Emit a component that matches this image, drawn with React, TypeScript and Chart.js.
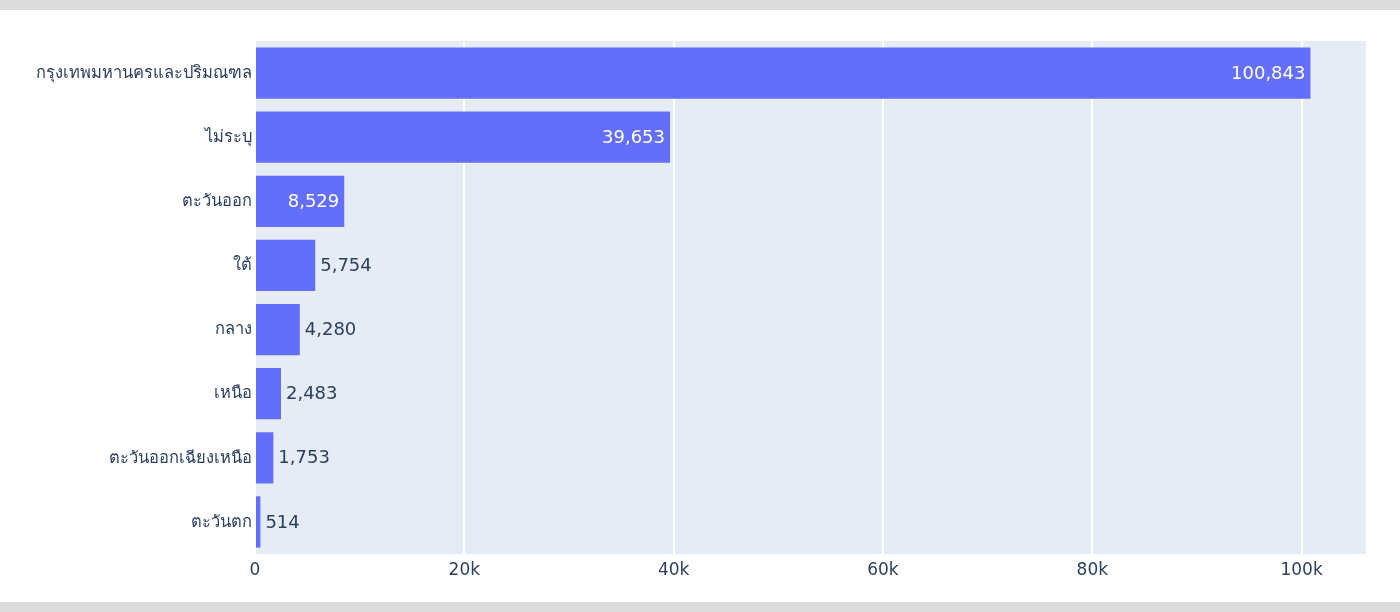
import React, { useEffect, useRef } from "react";
import { Chart, registerables } from "chart.js";

Chart.register(...registerables);

// Regions (top to bottom) and their counts
const regions = [
  "กรุงเทพมหานครและปริมณฑล",
  "ไม่ระบุ",
  "ตะวันออก",
  "ใต้",
  "กลาง",
  "เหนือ",
  "ตะวันออกเฉียงเหนือ",
  "ตะวันตก",
];
const counts = [100843, 39653, 8529, 5754, 4280, 2483, 1753, 514];
const xTickValues = [0, 20000, 40000, 60000, 80000, 100000];
const xMax = 106150;

const BAR = "#636EFA";
const PLOT_BG = "#E5ECF6";
const TEXT = "#2a3f5f";
const FONT = '"DejaVu Sans", verdana, arial, sans-serif';
const LABEL_FONT = '"Open Sans", verdana, arial, sans-serif';

const fmt = (v: number) => v.toLocaleString("en-US");

const plotBackground = {
  id: "plotBackground",
  beforeDraw(chart: any) {
    const { ctx, chartArea } = chart;
    ctx.save();
    ctx.fillStyle = PLOT_BG;
    ctx.fillRect(chartArea.left, chartArea.top, chartArea.right - chartArea.left, chartArea.bottom - chartArea.top);
    ctx.restore();
  },
};

// Value labels: inside the bar end when they fit, otherwise just past it
const barLabels = {
  id: "barLabels",
  afterDatasetsDraw(chart: any) {
    const { ctx } = chart;
    const meta = chart.getDatasetMeta(0);
    const data = chart.data.datasets[0].data as number[];
    ctx.save();
    ctx.font = `18px ${FONT}`;
    ctx.textBaseline = "middle";
    meta.data.forEach((bar: any, i: number) => {
      const text = fmt(data[i]);
      const w = ctx.measureText(text).width;
      const barLen = bar.x - bar.base;
      if (w + 16 <= barLen) {
        ctx.fillStyle = "#ffffff";
        ctx.textAlign = "right";
        ctx.fillText(text, bar.x - 5, bar.y + 1);
      } else {
        ctx.fillStyle = TEXT;
        ctx.textAlign = "left";
        ctx.fillText(text, bar.x + 5, bar.y + 1);
      }
    });
    ctx.restore();
  },
};

export default function App() {
  const ref = useRef<HTMLCanvasElement | null>(null);

  useEffect(() => {
    if (!ref.current) return;
    const chart = new Chart(ref.current, {
      type: "bar",
      data: {
        labels: regions,
        datasets: [
          {
            data: counts,
            backgroundColor: BAR,
            borderWidth: 0,
            categoryPercentage: 0.8,
            barPercentage: 1,
          },
        ],
      },
      options: {
        indexAxis: "y",
        animation: false,
        responsive: false,
        maintainAspectRatio: false,
        layout: { padding: { left: 0, top: 41, right: 34, bottom: 28 } },
        plugins: {
          legend: { display: false },
          tooltip: { enabled: false },
        },
        scales: {
          x: {
            type: "linear",
            min: 0,
            max: xMax,
            afterBuildTicks(scale: any) {
              scale.ticks = xTickValues.map((v) => ({ value: v }));
            },
            afterFit(scale: any) {
              scale.height = 30;
            },
            border: { display: false },
            grid: { color: "#ffffff", lineWidth: 2, drawTicks: false },
            ticks: {
              padding: 6,
              color: TEXT,
              font: { family: FONT, size: 17 },
              callback: (v: any) => (v === 0 ? "0" : `${v / 1000}k`),
            },
          },
          y: {
            afterFit(scale: any) {
              scale.width = 255;
            },
            border: { display: false },
            grid: { display: false, drawTicks: false },
            ticks: {
              padding: 3,
              color: TEXT,
              font: { family: LABEL_FONT, size: 16.5 },
            },
          },
        },
      },
      plugins: [plotBackground, barLabels],
    });
    return () => chart.destroy();
  }, []);

  return (
    <div style={{ position: "fixed", left: 0, top: 0, width: 1400, height: 612, background: "#ffffff" }}>
      <canvas ref={ref} width={1400} height={612} style={{ position: "absolute", left: 0, top: 0 }} />
      <div style={{ position: "absolute", left: 0, top: 0, width: 1400, height: 10, background: "#dcdbdb" }} />
      <div style={{ position: "absolute", left: 0, top: 602, width: 1400, height: 10, background: "#dcdbdb" }} />
    </div>
  );
}
